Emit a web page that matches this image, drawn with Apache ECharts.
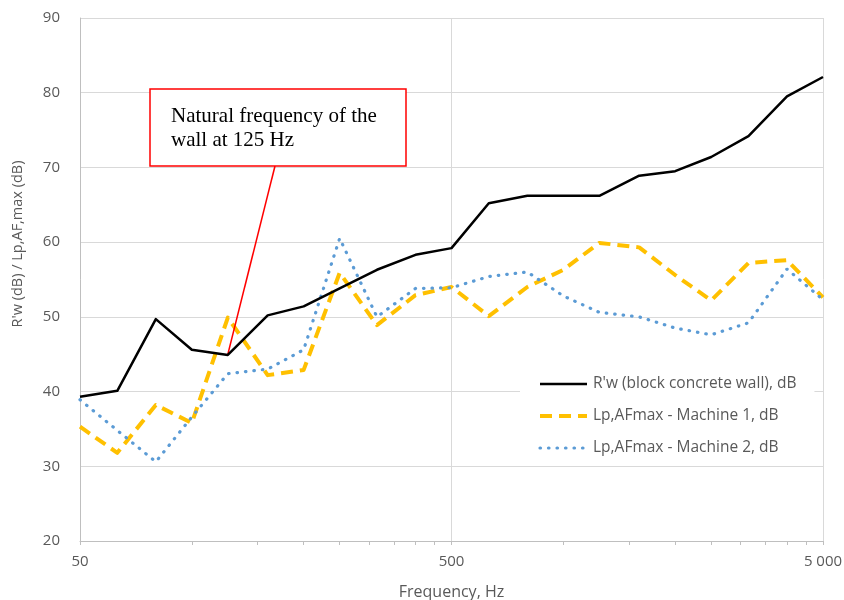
<!DOCTYPE html>
<html>
<head>
<meta charset="utf-8">
<script src="https://cdn.jsdelivr.net/npm/echarts@6/dist/echarts.min.js"></script>
<style>html,body{margin:0;padding:0;background:#fff}#c{width:844px;height:600px}</style>
</head>
<body>
<div id="c"></div>
<script>
const freqs = [50,63,80,100,125,160,200,250,315,400,500,630,800,1000,1250,1600,2000,2500,3150,4000,5000];
const wall = [39.3,40.1,49.7,45.6,44.9,50.2,51.4,53.8,56.3,58.3,59.2,65.2,66.2,66.2,66.2,68.9,69.5,71.4,74.2,79.5,82.1];
const machine1 = [35.3,31.8,38.2,35.8,49.9,42.2,42.9,55.9,48.9,52.9,54.0,50.1,54.0,56.3,59.9,59.3,55.6,52.2,57.2,57.6,52.6];
const machine2 = [38.9,34.8,30.6,36.6,42.4,43.0,45.6,60.5,50.0,53.8,53.9,55.4,56.0,52.8,50.6,50.0,48.5,47.6,49.2,56.4,52.3];
const seriesNames = ["R'w (block concrete wall), dB", "Lp,AFmax - Machine 1, dB", "Lp,AFmax - Machine 2, dB"];
const xMajorTicks = [50,500,5000];
const xMinorTicks = [50,100,150,200,250,300,350,400,450,500,1000,1500,2000,2500,3000,3500,4000,4500,5000];
const yTicks = [20,30,40,50,60,70,80,90];
const annotationText = "Natural frequency of the\nwall at 125 Hz";
const annotationPoint = [125, 45.0];

const pair = (vals) => freqs.map((f, i) => [f, vals[i]]);
const fmtFreq = (v) => {
  const s = String(Math.round(v));
  return s.length > 3 ? s.slice(0, s.length - 3) + '\u00a0' + s.slice(-3) : s;
};
const font = 'Open Sans';
const gray = '#595959';

const wallStyle = {color: '#000', width: 2.5, join: 'round'};
const m1Style = {color: '#FFC000', width: 4, type: [12, 7], join: 'round'};
const m2Style = {color: '#5B9BD5', width: 3.2, type: [0.5, 8], cap: 'round'};

const chart = echarts.init(document.getElementById('c'), null, {renderer: 'canvas'});
chart.setOption({
  animation: false,
  backgroundColor: '#fff',
  grid: {left: 80, right: 21, top: 18, bottom: 59, containLabel: false, outerBoundsMode: 'none'},
  xAxis: [{
    type: 'log', logBase: 10, min: 50, max: 5000,
    name: 'Frequency, Hz', nameLocation: 'middle', nameGap: 43,
    nameTextStyle: {fontFamily: font, fontSize: 16, color: gray},
    axisLine: {show: true, lineStyle: {color: '#bfbfbf', width: 1}},
    axisTick: {show: true, length: 4, customValues: xMinorTicks, lineStyle: {color: '#bfbfbf'}},
    axisLabel: {customValues: xMajorTicks, formatter: fmtFreq, fontFamily: font, fontSize: 15, color: gray, margin: 13},
    splitLine: {show: false}
  }, {
    type: 'log', logBase: 10, min: 50, max: 5000, position: 'bottom',
    axisLine: {show: false},
    axisTick: {show: false, customValues: xMajorTicks},
    axisLabel: {show: false, customValues: xMajorTicks},
    splitLine: {show: true, lineStyle: {color: '#d9d9d9', width: 1}}
  }],
  yAxis: {
    type: 'value', min: 20, max: 90, interval: 10,
    axisLine: {show: true, lineStyle: {color: '#bfbfbf', width: 1}},
    axisTick: {show: false},
    axisLabel: {fontFamily: font, fontSize: 15, color: gray, margin: 20, customValues: yTicks},
    splitLine: {show: true, lineStyle: {color: '#d9d9d9', width: 1}}
  },
  legend: {
    orient: 'vertical', left: 520, top: 366,
    padding: [10, 18, 10, 18],
    backgroundColor: '#fff',
    itemWidth: 47, itemHeight: 14, itemGap: 16,
    itemStyle: {opacity: 0},
    textStyle: {fontFamily: font, fontSize: 15.5, color: gray, lineHeight: 16, padding: [0, 0, 0, 1]},
    data: [
      {name: seriesNames[0], lineStyle: wallStyle},
      {name: seriesNames[1], lineStyle: m1Style},
      {name: seriesNames[2], lineStyle: m2Style}
    ]
  },
  series: [{
    name: seriesNames[0], type: 'line', data: pair(wall), symbol: 'none', z: 5,
    lineStyle: wallStyle,
    itemStyle: {color: '#000'},
    markLine: {
      silent: true, symbol: 'none', animation: false,
      label: {show: false},
      lineStyle: {color: '#ff0000', width: 1.5, type: 'solid'},
      data: [[{x: 275, y: 166}, {coord: annotationPoint}]]
    }
  }, {
    name: seriesNames[1], type: 'line', data: pair(machine1), symbol: 'none', z: 3,
    lineStyle: m1Style,
    itemStyle: {color: '#FFC000'}
  }, {
    name: seriesNames[2], type: 'line', data: pair(machine2), symbol: 'none', z: 4,
    lineStyle: m2Style,
    itemStyle: {color: '#5B9BD5'}
  }],
  graphic: [{
    type: 'rect', z: 100, shape: {x: 150, y: 89, width: 256, height: 77},
    style: {fill: '#fff', stroke: '#ff0000', lineWidth: 1.5}
  }, {
    type: 'text', z: 101, x: 171, y: 104,
    style: {text: annotationText, fontFamily: 'Liberation Serif', fontSize: 21, lineHeight: 24, fill: '#000', textAlign: 'left', textVerticalAlign: 'top'}
  }, {
    type: 'text', z: 101, x: 18, y: 244, rotation: Math.PI / 2,
    style: {text: "R'w (dB) / Lp,AF,max (dB)", fontFamily: font, fontSize: 14.5, fill: gray, textAlign: 'center', textVerticalAlign: 'middle'}
  }]
});
</script>
</body>
</html>
